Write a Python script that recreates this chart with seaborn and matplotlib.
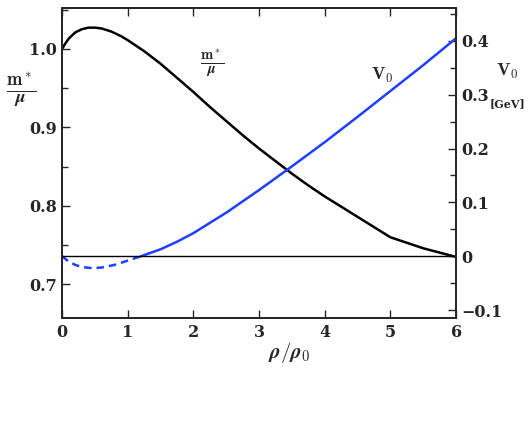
import numpy as np
import pandas as pd
import matplotlib
matplotlib.use("Agg")
import matplotlib.pyplot as plt
import seaborn as sns
from matplotlib.ticker import MultipleLocator

sns.set_style("ticks")
plt.rcParams['font.family'] = ['DejaVu Serif']
plt.rcParams['font.weight'] = 'bold'
plt.rcParams['mathtext.fontset'] = 'cm'

rho_m = [0, 0.05, 0.1, 0.2, 0.3, 0.4, 0.5, 0.6, 0.75, 0.9, 1.0, 1.25, 1.5, 1.75, 2.0, 2.25, 2.5,
         2.75, 3.0, 3.25, 3.5, 3.75, 4.0, 4.5, 5.0, 5.5, 6.0]
mstar = [1.0, 1.007, 1.013, 1.021, 1.025, 1.027, 1.027, 1.026, 1.022, 1.016, 1.011, 0.997, 0.981,
         0.963, 0.945, 0.926, 0.908, 0.890, 0.873, 0.857, 0.841, 0.826, 0.812, 0.784, 0.758, 0.734, 0.735]
mstar[-2] = 0.746
mstar[-1] = 0.735
mstar[-3] = 0.760
mstar[-4] = 0.786
mstar[-5] = 0.812

rho_neg = [0, 0.1, 0.2, 0.3, 0.45, 0.6, 0.8, 1.0, 1.2]
v_neg = [0, -0.010, -0.016, -0.020, -0.022, -0.021, -0.016, -0.008, 0]
rho_pos = [1.2, 1.5, 1.75, 2.0, 2.5, 3.0, 3.5, 4.0, 4.5, 5.0, 5.5, 6.0]
v_pos = [0, 0.013, 0.027, 0.043, 0.081, 0.123, 0.167, 0.212, 0.259, 0.307, 0.355, 0.405]

fig = plt.figure(figsize=(5.31, 4.22), dpi=100)
ax = fig.add_axes([0.117, 0.246, 0.742, 0.735])
ax2 = ax.twinx()

sns.lineplot(x=rho_m, y=mstar, ax=ax, color='black', lw=1.8)
sns.lineplot(x=rho_pos, y=v_pos, ax=ax2, color='#1f3fff', lw=1.8)
sns.lineplot(x=rho_neg, y=v_neg, ax=ax2, color='#1f3fff', lw=1.8, linestyle=(0, (3, 2)))
ax2.axhline(0, color='black', lw=1.0)

ax.set_xlim(0, 6)
ax.set_ylim(0.657, 1.052)
ax2.set_ylim(-0.115, 0.461)
ax.yaxis.set_minor_locator(MultipleLocator(0.05))
ax2.yaxis.set_minor_locator(MultipleLocator(0.05))
ax.set_xticks([0, 1, 2, 3, 4, 5, 6])
ax.set_xticklabels([str(i) for i in range(7)])
ax.set_yticks([0.7, 0.8, 0.9, 1.0])
ax.set_yticklabels(['0.7', '0.8', '0.9', '1.0'])
ax2.set_yticks([-0.1, 0, 0.1, 0.2, 0.3, 0.4])
ax2.set_yticklabels(['\u22120.1', '0', '0.1', '0.2', '0.3', '0.4'])

for a in (ax, ax2):
    a.tick_params(which='both', direction='in', labelsize=11.5, top=False, width=1)
    a.tick_params(which='major', length=6)
    a.tick_params(which='minor', length=4)
    for s in a.spines.values():
        s.set_linewidth(1.3)
ax.tick_params(axis='x', direction='in', top=True, pad=4)
ax.set_xlabel('')
ax.set_ylabel('')
ax2.set_ylabel('')

fig.text(0.04, 0.785, r'$\frac{\mathbf{m^*}}{\boldsymbol{\mu}}$', fontsize=19, ha='center', va='center')
fig.text(0.40, 0.85, r'$\frac{\mathbf{m^*}}{\boldsymbol{\mu}}$', fontsize=15, ha='center', va='center')
fig.text(0.72, 0.82, r'$\mathbf{V}_\mathbf{0}$', fontsize=13, ha='center', va='center')
fig.text(0.955, 0.83, r'$\mathbf{V}_\mathbf{0}$', fontsize=13, ha='center', va='center')
fig.text(0.955, 0.755, '[GeV]', fontsize=8, ha='center', va='center')
fig.text(0.545, 0.165, r'$\boldsymbol{\rho/\rho}_\mathbf{0}$', fontsize=15, ha='center', va='center')

fig.savefig('out.png', dpi=100)
